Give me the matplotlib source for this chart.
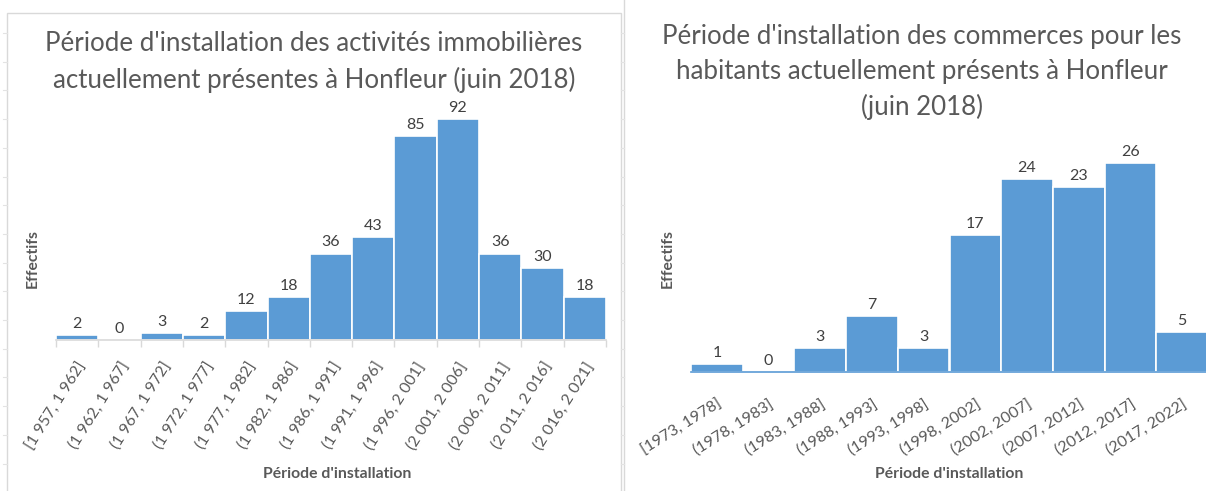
import matplotlib.pyplot as plt
from matplotlib.lines import Line2D
from matplotlib.patches import Rectangle

plt.rcParams['font.family'] = ['Lato', 'DejaVu Sans']

# Left chart: activités immobilières
immo_labels = ['[1 957, 1 962]', '(1 962, 1 967]', '(1 967, 1 972]', '(1 972, 1 977]',
               '(1 977, 1 982]', '(1 982, 1 986]', '(1 986, 1 991]', '(1 991, 1 996]',
               '(1 996, 2 001]', '(2 001, 2 006]', '(2 006, 2 011]', '(2 011, 2 016]',
               '(2 016, 2 021]']
immo_counts = [2, 0, 3, 2, 12, 18, 36, 43, 85, 92, 36, 30, 18]
immo_title = "Période d'installation des activités immobilières\nactuellement présentes à Honfleur (juin 2018)"

# Right chart: commerces pour les habitants
comm_labels = ['[1973, 1978]', '(1978, 1983]', '(1983, 1988]', '(1988, 1993]',
               '(1993, 1998]', '(1998, 2002]', '(2002, 2007]', '(2007, 2012]',
               '(2012, 2017]', '(2017, 2022]']
comm_counts = [1, 0, 3, 7, 3, 17, 24, 23, 26, 5]
comm_title = "Période d'installation des commerces pour les\nhabitants actuellement présents à Honfleur\n(juin 2018)"

BAR_COLOR = '#5B9BD5'
TEXT_COLOR = '#595959'
LABEL_COLOR = '#404040'
W, H = 1206, 491


def px_box(x0, x1, y_base, y_top):
    """axes rect in figure fraction from pixel coords (y measured from top)"""
    return [x0 / W, (H - y_base) / H, (x1 - x0) / W, (y_base - y_top) / H]


def draw_hist(ax, labels, counts, ymax, rotation, lab_pad, axis_color, boundary_ticks):
    x = range(len(counts))
    ax.bar(x, counts, width=1.0, color=BAR_COLOR, edgecolor='white', linewidth=1.2)
    ax.set_xlim(-0.5, len(counts) - 0.5)
    ax.set_ylim(0, ymax)
    for i, v in enumerate(counts):
        ax.annotate(str(v), (i, v), xytext=(0, 3), textcoords='offset points',
                    ha='center', va='bottom', fontsize=11.5, color=LABEL_COLOR)
    ax.set_xticks(list(x))
    ax.set_xticklabels(labels, rotation=rotation, ha='right', rotation_mode='anchor',
                       fontsize=11.5, color=TEXT_COLOR)
    ax.tick_params(axis='x', which='major', length=0, pad=lab_pad)
    if boundary_ticks:
        ax.set_xticks([i - 0.5 for i in range(len(counts) + 1)], minor=True)
        ax.tick_params(axis='x', which='minor', length=5, width=1, color=axis_color,
                       direction='out')
    ax.set_yticks([])
    for s in ['top', 'right', 'left']:
        ax.spines[s].set_visible(False)
    ax.spines['bottom'].set_color(axis_color)
    ax.spines['bottom'].set_linewidth(1.2)
    ax.patch.set_alpha(0)


fig = plt.figure(figsize=(W / 100, H / 100), dpi=100)

# chart frames (Excel chart area borders)
fig.add_artist(Rectangle((7 / W, -0.01), (621 - 7) / W, (H - 13) / H + 0.01,
                         transform=fig.transFigure, fill=False, edgecolor='#d9d9d9', linewidth=1))
fig.add_artist(Line2D([624 / W, 624 / W], [0, 1], transform=fig.transFigure,
                      color='#d9d9d9', linewidth=1))
# worksheet grid marks peeking out at the sheet edges
for k in range(17):
    yy = 1 - (33 + k * 28.7) / H
    fig.add_artist(Line2D([3 / W, 7 / W], [yy, yy], transform=fig.transFigure,
                          color='#e3e3e3', linewidth=0.8))
    fig.add_artist(Line2D([621 / W, 624 / W], [yy, yy], transform=fig.transFigure,
                          color='#e3e3e3', linewidth=0.8))

ax1 = fig.add_axes(px_box(56, 606, 340, 100))
draw_hist(ax1, immo_labels, immo_counts, 100, 58, 14, '#d9d9d9', True)
fig.text(314 / W, 1 - 62 / H, immo_title, ha='center', va='center', fontsize=18.6,
         color=TEXT_COLOR, linespacing=1.5)
fig.text(337 / W, 1 - 474 / H, "Période d'installation", ha='center', va='center',
         fontsize=11.3, fontweight='bold', color=TEXT_COLOR)
fig.text(33 / W, 1 - 258 / H, 'Effectifs', ha='center', va='center', rotation=90,
         fontsize=11.3, fontweight='bold', color=TEXT_COLOR)

ax2 = fig.add_axes(px_box(691, 691 + 10 * 51.7, 372, 372 - 30 * 8.04))
draw_hist(ax2, comm_labels, comm_counts, 30, 32, 18, BAR_COLOR, False)
fig.text(922 / W, 1 - 72 / H, comm_title, ha='center', va='center', fontsize=18.6,
         color=TEXT_COLOR, linespacing=1.5)
fig.text(949 / W, 1 - 474 / H, "Période d'installation", ha='center', va='center',
         fontsize=11.3, fontweight='bold', color=TEXT_COLOR)
fig.text(668 / W, 1 - 259 / H, 'Effectifs', ha='center', va='center', rotation=90,
         fontsize=11.3, fontweight='bold', color=TEXT_COLOR)

fig.savefig('out.png', dpi=100)
